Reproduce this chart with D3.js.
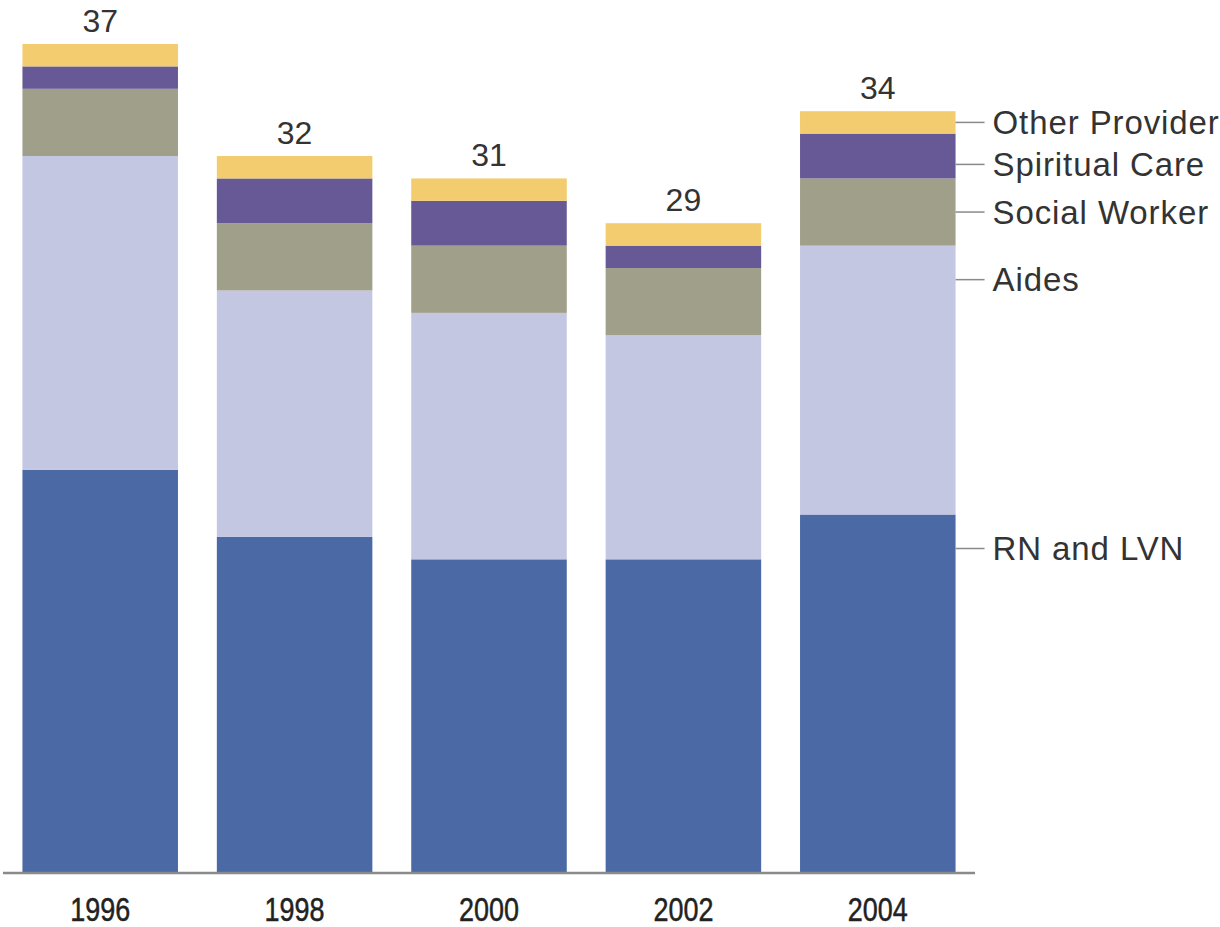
<!DOCTYPE html>
<html>
<head>
<meta charset="utf-8">
<script src="https://cdn.jsdelivr.net/npm/d3@7"></script>
<style>
  html, body { margin: 0; padding: 0; background: #fff; }
  svg { display: block; }
</style>
</head>
<body>
<svg id="chart" width="1220" height="927"></svg>
<script>
// Hospice staff per patient census, by discipline
const years = ["1996", "1998", "2000", "2002", "2004"];
const categories = ["RN and LVN", "Aides", "Social Worker", "Spiritual Care", "Other Provider"];
const rnLvn       = [18, 15, 14, 14, 16];
const aides       = [14, 11, 11, 10, 12];
const socialWork  = [3, 3, 3, 3, 3];
const spiritual   = [1, 2, 2, 1, 2];
const otherProv   = [1, 1, 1, 1, 1];
const totals      = [37, 32, 31, 29, 34];
const colors = ["#4a69a5", "#c3c7e2", "#a09f89", "#675995", "#f2cc6e"];

const seriesValues = [rnLvn, aides, socialWork, spiritual, otherProv];
const rows = years.map((y, i) => {
  const r = { year: y };
  categories.forEach((c, k) => { r[c] = seriesValues[k][i]; });
  return r;
});

const svg = d3.select("#chart");
const baseY = 873;
const x = d3.scaleBand().domain(years).range([3, 975]).paddingInner(0.2).paddingOuter(0.1);
const y = d3.scaleLinear().domain([0, 37]).range([baseY, 44]);
const color = d3.scaleOrdinal().domain(categories).range(colors);

const stacked = d3.stack().keys(categories)(rows);

svg.append("g").selectAll("g")
  .data(stacked)
  .join("g")
    .attr("fill", d => color(d.key))
  .selectAll("rect")
  .data(d => d)
  .join("rect")
    .attr("x", d => x(d.data.year))
    .attr("width", x.bandwidth())
    .attr("y", d => y(d[1]))
    .attr("height", d => y(d[0]) - y(d[1]));

// totals above each bar
svg.append("g").selectAll("text")
  .data(years)
  .join("text")
    .attr("x", d => x(d) + x.bandwidth() / 2)
    .attr("y", (d, i) => y(totals[i]) - 12)
    .attr("text-anchor", "middle")
    .attr("font-family", "'Liberation Sans', Arial, sans-serif")
    .attr("font-size", 32)
    .attr("fill", "#333")
    .text((d, i) => totals[i]);

// baseline axis
const axis = svg.append("g")
  .attr("transform", `translate(0,${baseY})`)
  .call(d3.axisBottom(x).tickSize(0).tickPadding(24));
axis.select(".domain").attr("stroke", "#8a8a8a").attr("stroke-width", 2.5)
  .attr("d", "M3,0H975");
// condensed year labels
axis.selectAll(".tick text")
  .attr("font-family", "'Liberation Sans', Arial, sans-serif")
  .attr("font-size", 34)
  .attr("fill", "#222")
  .attr("stroke", "#222")
  .attr("stroke-width", 0.5)
  .attr("dy", "0.71em")
  .attr("textLength", 60)
  .attr("lengthAdjust", "spacingAndGlyphs");

// series labels beside the last bar, with leader lines
const last = stacked.map(s => s[s.length - 1]);
const lastX = x(years[years.length - 1]) + x.bandwidth();
let prev = -Infinity;
const labelPos = last.slice().reverse().map((seg, j) => {
  const top = y(seg[1]), bottom = y(seg[0]);
  let ly = Math.min((top + bottom) / 2, top + 34);
  ly = Math.max(ly, prev + 42);
  prev = ly;
  return { key: categories[categories.length - 1 - j], y: ly };
});

const leg = svg.append("g");
leg.selectAll("line")
  .data(labelPos)
  .join("line")
    .attr("x1", lastX).attr("x2", lastX + 29)
    .attr("y1", d => d.y).attr("y2", d => d.y)
    .attr("stroke", "#8a8a8a").attr("stroke-width", 1.5);
leg.selectAll("text")
  .data(labelPos)
  .join("text")
    .attr("x", lastX + 37)
    .attr("y", d => d.y)
    .attr("dy", "0.35em")
    .attr("font-family", "'Liberation Sans', Arial, sans-serif")
    .attr("font-size", 33)
    .attr("letter-spacing", 0.9)
    .attr("fill", "#333")
    .text(d => d.key);
</script>
</body>
</html>
